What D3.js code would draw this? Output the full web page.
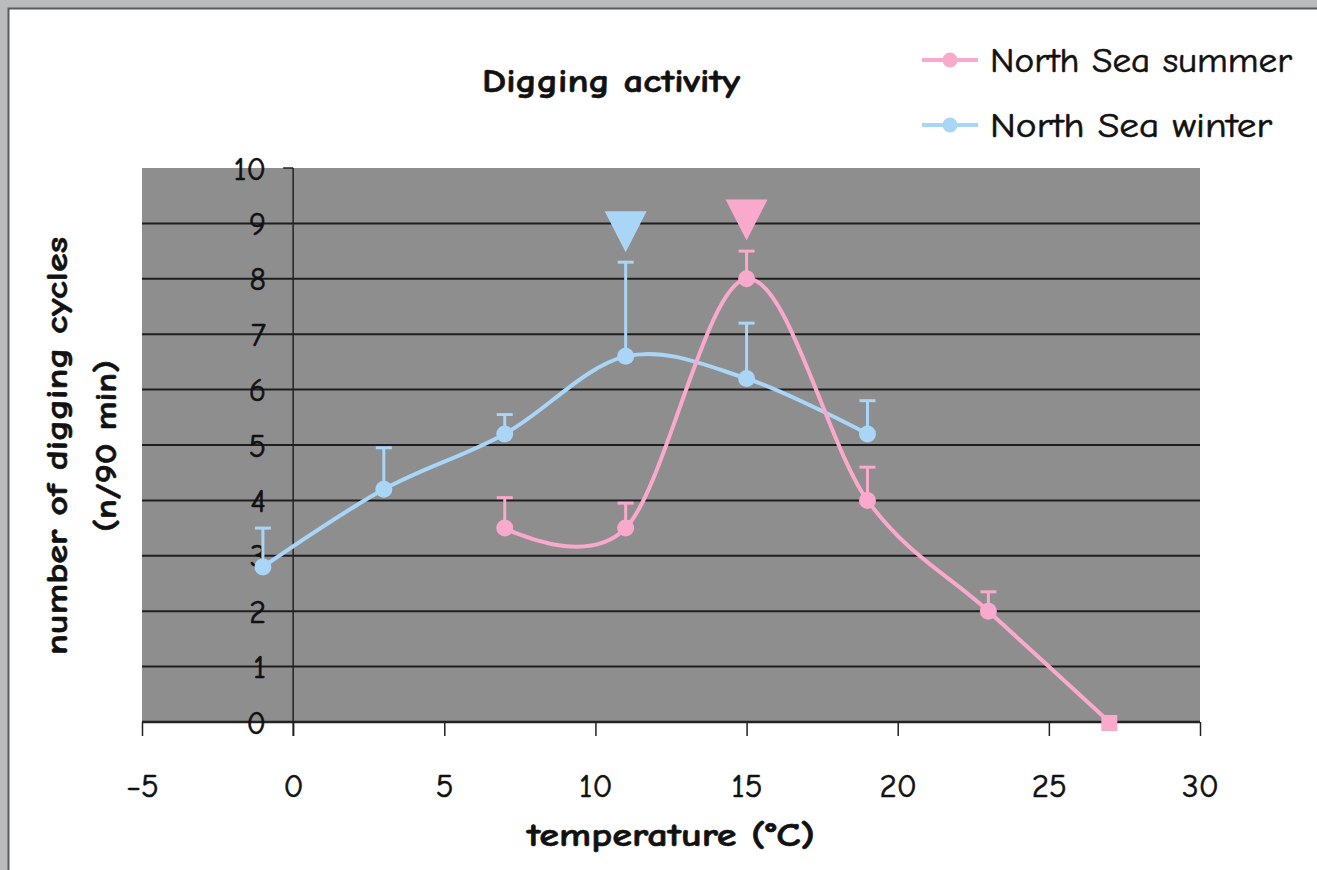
<!DOCTYPE html>
<html>
<head>
<meta charset="utf-8">
<script src="https://cdn.jsdelivr.net/npm/d3@7"></script>
<style>
  body { margin: 0; background: #fff; }
  svg text { font-family: "Comic Sans MS", "Comic Neue", "DejaVu Sans", sans-serif; fill: #111; stroke: #111; stroke-width: 0.6px; }
</style>
</head>
<body>
<div id="chart"></div>
<script>
// DATA
const seriesNames = ['North Sea summer', 'North Sea winter'];
const summerTemp = [7, 11, 15, 19, 23, 27];
const summerCycles = [3.5, 3.5, 8.0, 4.0, 2.0, 0];
const summerUpper = [4.05, 3.95, 8.5, 4.6, 2.35, null];
const winterTemp = [-1, 3, 7, 11, 15, 19];
const winterCycles = [2.8, 4.2, 5.2, 6.6, 6.2, 5.2];
const winterUpper = [3.5, 4.95, 5.55, 8.3, 7.2, 5.8];
// optimum markers (temperature, level of triangle centre)
const peakTemp = [15, 11];
const peakLevel = [9.06, 8.85];
const xTicks = [-5, 0, 5, 10, 15, 20, 25, 30];
const yTicks = [0, 1, 2, 3, 4, 5, 6, 7, 8, 9, 10];

const colors = ['#f9a9cb', '#a9d5f7'];

const W = 1317, H = 870;
const svg = d3.select('#chart').append('svg')
    .attr('width', W).attr('height', H);

// FRAME
svg.append('rect').attr('width', W).attr('height', H).attr('fill', '#b9bbbc');
svg.append('rect').attr('x', 8).attr('y', 8).attr('width', W - 8).attr('height', H - 8).attr('fill', '#fff');
svg.append('path').attr('d', `M8.5,${H} V8.5 H${W}`).attr('fill', 'none').attr('stroke', '#5a5a5a').attr('stroke-width', 2);

const x = d3.scaleLinear().domain([-5, 30]).range([142, 1200]);
const y = d3.scaleLinear().domain([0, 10]).range([722, 168]);

// PLOT AREA
svg.append('rect')
    .attr('x', x(-5)).attr('y', y(10))
    .attr('width', x(30) - x(-5)).attr('height', y(0) - y(10))
    .attr('fill', '#8e8e8e');

// GRID
svg.append('g').selectAll('line')
    .data(yTicks.filter(d => d > 0 && d < 10))
    .join('line')
    .attr('x1', x(-5)).attr('x2', x(30))
    .attr('y1', d => y(d)).attr('y2', d => y(d))
    .attr('stroke', '#1e1e1e').attr('stroke-width', 2);

// X AXIS
const xAxis = svg.append('g')
    .attr('transform', `translate(0,${y(0)})`)
    .call(d3.axisBottom(x).tickValues(xTicks).tickSize(14).tickPadding(38));
xAxis.select('.domain').attr('stroke', '#222').attr('stroke-width', 2.5).attr('d', `M${x(-5)},0H${x(30)}`);
xAxis.selectAll('.tick line').attr('stroke', '#222').attr('stroke-width', 1.5);
xAxis.selectAll('text').attr('font-size', 33).attr('fill', '#111').style('font-family', null);

// Y AXIS
svg.append('line')
    .attr('x1', x(0)).attr('x2', x(0))
    .attr('y1', y(10)).attr('y2', y(0) + 14)
    .attr('stroke', '#222').attr('stroke-width', 1.5);
svg.append('line')
    .attr('x1', x(0) - 10).attr('x2', x(0))
    .attr('y1', y(10)).attr('y2', y(10))
    .attr('stroke', '#222').attr('stroke-width', 1.5);
svg.append('g').selectAll('text')
    .data(yTicks)
    .join('text')
    .attr('x', 266).attr('y', d => y(d))
    .attr('dy', '0.36em')
    .attr('text-anchor', 'end')
    .attr('font-size', 32)
    .text(d => d);

// SERIES
const line = d3.line()
    .x(d => x(d[0])).y(d => y(d[1]))
    .curve(d3.curveCatmullRom.alpha(0));

const series = [
    { name: seriesNames[1], color: colors[1], temp: winterTemp, val: winterCycles, up: winterUpper },
    { name: seriesNames[0], color: colors[0], temp: summerTemp, val: summerCycles, up: summerUpper }
];

series.forEach(s => {
    const pts = s.temp.map((t, i) => [t, s.val[i], s.up[i]]);
    const g = svg.append('g');
    g.append('path')
        .attr('d', line(pts))
        .attr('fill', 'none')
        .attr('stroke', s.color)
        .attr('stroke-width', 4);
    const eb = g.selectAll('.eb').data(pts.filter(p => p[2] != null)).join('g');
    eb.append('line')
        .attr('x1', p => x(p[0])).attr('x2', p => x(p[0]))
        .attr('y1', p => y(p[1])).attr('y2', p => y(p[2]))
        .attr('stroke', s.color).attr('stroke-width', 3);
    eb.append('line')
        .attr('x1', p => x(p[0]) - 8).attr('x2', p => x(p[0]) + 8)
        .attr('y1', p => y(p[2])).attr('y2', p => y(p[2]))
        .attr('stroke', s.color).attr('stroke-width', 3);
    g.selectAll('.pt').data(pts.filter(p => p[2] != null)).join('circle')
        .attr('cx', p => x(p[0])).attr('cy', p => y(p[1]))
        .attr('r', 8.5).attr('fill', s.color);
    g.selectAll('.sq').data(pts.filter(p => p[2] == null)).join('rect')
        .attr('x', p => x(p[0]) - 8).attr('y', p => y(p[1]) - 7)
        .attr('width', 16).attr('height', 16).attr('fill', s.color);
});

// OPTIMUM TRIANGLES
svg.append('g').selectAll('path')
    .data(peakTemp.map((t, i) => ({ t, v: peakLevel[i], c: colors[i] })))
    .join('path')
    .attr('d', d => {
        const cx = x(d.t), cy = y(d.v);
        return `M${cx - 21},${cy - 20.5}H${cx + 21}L${cx},${cy + 20.5}Z`;
    })
    .attr('fill', d => d.c);

// TITLES
svg.append('text')
    .attr('x', 482).attr('y', 92)
    .attr('font-size', 32).attr('font-weight', 'bold')
    .attr('textLength', 258).attr('lengthAdjust', 'spacingAndGlyphs')
    .text('Digging activity');

svg.append('text')
    .attr('x', 527).attr('y', 846)
    .attr('font-size', 33).attr('font-weight', 'bold')
    .attr('textLength', 288).attr('lengthAdjust', 'spacingAndGlyphs')
    .text('temperature (°C)');

const yTitle = svg.append('g').attr('transform', 'translate(0,446) rotate(-90)')
    .attr('font-size', 31).attr('font-weight', 'bold');
yTitle.append('text').attr('x', -209).attr('y', 67)
    .attr('textLength', 418).attr('lengthAdjust', 'spacingAndGlyphs')
    .text('number of digging cycles');
yTitle.append('text').attr('x', -86).attr('y', 116)
    .attr('textLength', 172).attr('lengthAdjust', 'spacingAndGlyphs')
    .text('(n/90 min)');

// LEGEND
const legendWidths = [302, 282];
const legend = svg.append('g').selectAll('g')
    .data(seriesNames.map((n, i) => ({ n, c: colors[i], ly: 60 + i * 65, w: legendWidths[i] })))
    .join('g');
legend.append('line')
    .attr('x1', 922).attr('x2', 978)
    .attr('y1', d => d.ly).attr('y2', d => d.ly)
    .attr('stroke', d => d.c).attr('stroke-width', 4);
legend.append('circle')
    .attr('cx', 950).attr('cy', d => d.ly).attr('r', 7.5)
    .attr('fill', d => d.c);
legend.append('text')
    .attr('x', 990).attr('y', d => d.ly + 12)
    .attr('font-size', 34)
    .attr('textLength', d => d.w).attr('lengthAdjust', 'spacingAndGlyphs')
    .text(d => d.n);
</script>
</body>
</html>
